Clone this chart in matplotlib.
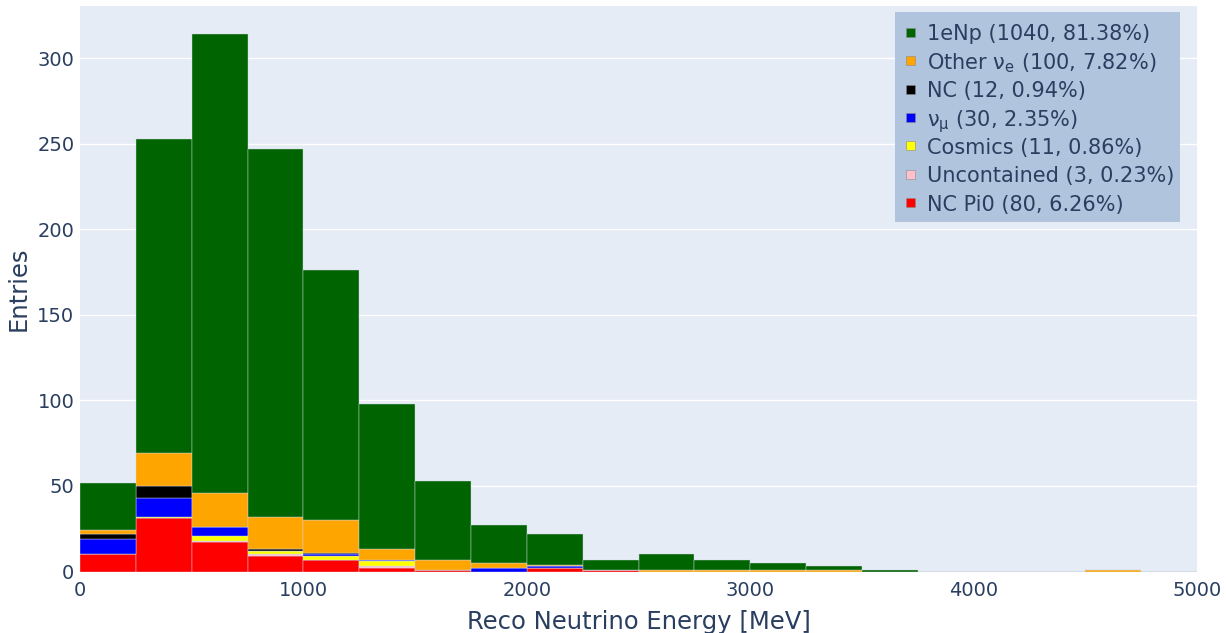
import numpy as np
import matplotlib
matplotlib.use("Agg")
import matplotlib.pyplot as plt
from matplotlib.patches import Rectangle

plt.rcParams['font.family'] = ['DejaVu Sans']
plt.rcParams['mathtext.fontset'] = 'dejavusans'

W, H = 1226, 633

# 250 MeV bins from 0 to 5000
bin_edges = np.arange(0, 5001, 250)

# counts per bin, stacked bottom -> top
nc_pi0 =      [10, 31, 17, 9, 7, 2, 1, 0, 2, 1, 0, 0, 0, 0, 0, 0, 0, 0, 0, 0]
uncontained = [0, 0, 1, 1, 0, 1, 0, 0, 0, 0, 0, 0, 0, 0, 0, 0, 0, 0, 0, 0]
cosmics =     [0, 1, 3, 2, 2, 3, 0, 0, 0, 0, 0, 0, 0, 0, 0, 0, 0, 0, 0, 0]
numu =        [9, 11, 5, 0, 1, 1, 0, 2, 1, 0, 0, 0, 0, 0, 0, 0, 0, 0, 0, 0]
nc =          [3, 7, 0, 1, 1, 0, 0, 0, 0, 0, 0, 0, 0, 0, 0, 0, 0, 0, 0, 0]
other_nue =   [2, 19, 20, 19, 19, 6, 6, 3, 1, 0, 1, 1, 1, 1, 0, 0, 0, 0, 1, 0]
one_e_np =    [28, 184, 268, 215, 146, 85, 46, 22, 18, 6, 9, 6, 4, 2, 1, 0, 0, 0, 0, 0]

series = [
    (nc_pi0, "#FF0000", "NC Pi0 (80, 6.26%)"),
    (uncontained, "#FFC0CB", "Uncontained (3, 0.23%)"),
    (cosmics, "#FFFF00", "Cosmics (11, 0.86%)"),
    (numu, "#0000FF", r"$\mathregular{\nu_\mu}$ (30, 2.35%)"),
    (nc, "#000000", "NC (12, 0.94%)"),
    (other_nue, "#FFA500", r"Other $\mathregular{\nu_e}$ (100, 7.82%)"),
    (one_e_np, "#006400", "1eNp (1040, 81.38%)"),
]

fig = plt.figure(figsize=(W / 100, H / 100), dpi=100)
ax = fig.add_axes([80 / W, 1 - 571.5 / H, 1117 / W, 565.5 / H])
ax.set_facecolor("#E5ECF6")

bottom = np.zeros(len(bin_edges) - 1)
for vals, col, lab in series:
    vals = np.array(vals)
    ax.bar(bin_edges[:-1], vals, width=250, bottom=bottom, align="edge",
           color=col, edgecolor="#D0D9E6", linewidth=0.3, zorder=2)
    bottom += vals

ax.set_xlim(0, 5000)
ax.set_ylim(0, 330.5)
ax.set_yticks([0, 50, 100, 150, 200, 250, 300])
ax.set_xticks([0, 1000, 2000, 3000, 4000, 5000])
ax.yaxis.grid(True, color="white", linewidth=1.0, zorder=0)
ax.set_axisbelow(True)
for s in ax.spines.values():
    s.set_visible(False)
ax.tick_params(axis="both", length=0, labelsize=14, colors="#2a3f5f")
ax.tick_params(axis="y", pad=4)
ax.tick_params(axis="x", pad=7)

ax.set_xlabel("Reco Neutrino Energy [MeV]", fontsize=17.5, color="#2a3f5f", labelpad=7)
ax.set_ylabel("Entries", fontsize=17.5, color="#2a3f5f", labelpad=5)

# legend box drawn by hand so the rows are evenly spaced
fig.patches.append(Rectangle((895 / W, 1 - 222 / H), 285 / W, 210 / H,
                             transform=fig.transFigure, facecolor="#B0C4DE",
                             edgecolor="none", zorder=5))
for i, (_, col, lab) in enumerate(series[::-1]):
    yc = 32.3 + i * 28.4
    fig.patches.append(Rectangle((906 / W, 1 - (yc + 4.5) / H), 9 / W, 9 / H,
                                 transform=fig.transFigure, facecolor=col,
                                 edgecolor="#8a8a8a", linewidth=0.4, zorder=6))
    fig.text(927 / W, 1 - yc / H, lab, fontsize=15, color="#2a3f5f",
             va="center_baseline", ha="left", zorder=7)

fig.savefig("out.png", dpi=100)
